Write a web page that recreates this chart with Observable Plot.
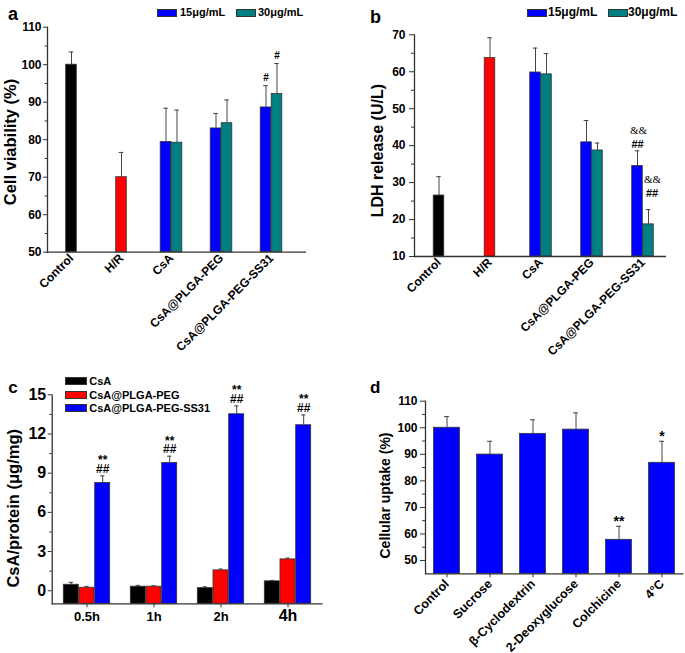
<!DOCTYPE html>
<html><head><meta charset="utf-8">
<script src="https://cdn.jsdelivr.net/npm/d3@7"></script>
<script src="https://cdn.jsdelivr.net/npm/@observablehq/plot@0.6"></script>
<style>
body{margin:0;background:#fff;font-family:"Liberation Sans",Arial,Helvetica,sans-serif;}
#wrap{position:relative;width:685px;height:653px;overflow:hidden;background:#fff}
.panel{position:absolute}
.t{position:absolute;font-weight:bold;color:#000;white-space:nowrap;line-height:1}
.sw{position:absolute;border:1px solid #333;box-sizing:border-box}
</style></head><body><div id="wrap"></div>
<script>
// ---------- DATA ----------
// Panel a: cell viability (%)
const groupsAB = ["Control", "H/R", "CsA", "CsA@PLGA-PEG", "CsA@PLGA-PEG-SS31"];
const singleGroups = ["Control", "H/R"];
const pairGroups = ["CsA", "CsA@PLGA-PEG", "CsA@PLGA-PEG-SS31"];
const viabSingle = [100.0, 70.0];
const viabSingleErr = [3.4, 6.6];
const viab15 = [79.4, 83.0, 88.6];
const viab15Err = [9.0, 4.0, 5.8];
const viab30 = [79.2, 84.4, 92.2];
const viab30Err = [8.7, 6.2, 8.1];
const viabMark15 = ["", "", "#"];
const viabMark30 = ["", "", "#"];
const viabTicks = [50, 60, 70, 80, 90, 100, 110];

// Panel b: LDH release (U/L)
const ldhSingle = [26.5, 63.7];
const ldhSingleErr = [5.1, 5.5];
const ldh15 = [59.8, 40.9, 34.5];
const ldh15Err = [6.6, 5.9, 4.1];
const ldh30 = [59.3, 38.7, 18.7];
const ldh30Err = [5.6, 2.0, 4.0];
const ldhHash15 = ["", "", "##"];
const ldhAmp15 = ["", "", "&&"];
const ldhHash30 = ["", "", "##"];
const ldhAmp30 = ["", "", "&&"];
const ldhTicks = [10, 20, 30, 40, 50, 60, 70];

// Panel c: CsA/protein (µg/mg)
const times = ["0.5h", "1h", "2h", "4h"];
const seriesC = ["CsA", "CsA@PLGA-PEG", "CsA@PLGA-PEG-SS31"];
const cCsA = [0.46, 0.31, 0.20, 0.72];
const cCsAErr = [0.18, 0.10, 0.10, 0.07];
const cPlga = [0.23, 0.31, 1.56, 2.40];
const cPlgaErr = [0.10, 0.07, 0.10, 0.10];
const cSS31 = [8.25, 9.78, 13.51, 12.67];
const cSS31Err = [0.54, 0.52, 0.64, 0.79];
const cStar = ["**", "**", "**", "**"];
const cHash = ["##", "##", "##", "##"];
const cTicks = [0, 3, 6, 9, 12, 15];

// Panel d: cellular uptake (%)
const treatments = ["Control", "Sucrose", "β-Cyclodextrin", "2-Deoxyglucose", "Colchicine", "4°C"];
const uptake = [100.0, 89.9, 97.7, 99.3, 57.8, 86.8];
const uptakeErr = [4.2, 5.0, 5.3, 6.3, 5.1, 8.1];
const uptakeMark = ["", "", "", "", "**", "*"];
const uptakeTicks = [50, 60, 70, 80, 90, 100, 110];

// ---------- STYLE ----------
const FONT = '"Liberation Sans", Arial, Helvetica, sans-serif';
const AXIS = "#333";
const ERR = "#444";
const EDGE = "#333";
const BLUE = "#0000ff", TEAL = "#008080", RED = "#ff0000", BLACK = "#000000";
const singleColor = {"Control": BLACK, "H/R": RED};
const wrap = document.getElementById("wrap");

function place(el, left, top) {
  const d = document.createElement("div");
  d.className = "panel";
  d.style.left = left + "px"; d.style.top = top + "px";
  d.appendChild(el); wrap.appendChild(d);
}
function addText(str, x, baseline, fs) {
  const s = document.createElement("div");
  s.className = "t"; s.textContent = str;
  s.style.fontSize = fs + "px";
  s.style.left = x + "px";
  s.style.top = (baseline - 0.8465 * fs) + "px";
  wrap.appendChild(s);
}
function addSwatch(x, y, w, h, color) {
  const s = document.createElement("div");
  s.className = "sw";
  s.style.left = x + "px"; s.style.top = y + "px";
  s.style.width = w + "px"; s.style.height = h + "px";
  s.style.background = color;
  wrap.appendChild(s);
}
const half = (a) => a.slice(0, -1).map((v, i) => (v + a[i + 1]) / 2);
function rows(groups, vals, errs, marks, marks2) {
  return groups.map((g, i) => ({g, v: vals[i], e: errs[i], m: marks ? marks[i] : "", m2: marks2 ? marks2[i] : ""}));
}
function barSet(data, {fill, dx = 0, inset, capInset, y0}) {
  return [
    Plot.barY(data, {x: "g", y1: () => y0, y2: "v", fill, stroke: EDGE, strokeWidth: 0.8, insetLeft: inset, insetRight: inset, dx}),
    Plot.ruleX(data, {x: "g", y1: "v", y2: d => d.v + d.e, dx, stroke: ERR, strokeWidth: 1}),
    Plot.tickY(data, {x: "g", y: d => d.v + d.e, dx, stroke: ERR, strokeWidth: 1, insetLeft: capInset, insetRight: capInset})
  ];
}
function yAxes(major, minor, fs, tickSize, tickPadding) {
  return [
    Plot.axisY({ticks: major, tickSize, tickPadding, fontSize: fs, label: null, stroke: AXIS, fill: "#000", strokeWidth: 1}),
    Plot.axisY({ticks: minor, tickSize: tickSize * 0.6, tickFormat: () => "", label: null, stroke: AXIS, strokeWidth: 1})
  ];
}
function yLabel(str, dx, dy, fs) {
  return Plot.text([str], {text: d => d, frameAnchor: "left", textAnchor: "middle", lineAnchor: "middle", rotate: -90, dx, dy, fontSize: fs});
}

// ---------- PANEL A ----------
{
  const range = [45, 297];
  const bw = (range[1] - range[0]) / groupsAB.length;
  const barW = 11, inset = (bw - barW) / 2, capInset = (bw - 5) / 2;
  const y0 = viabTicks[0];
  const s = rows(singleGroups, viabSingle, viabSingleErr);
  const p15 = rows(pairGroups, viab15, viab15Err, viabMark15);
  const p30 = rows(pairGroups, viab30, viab30Err, viabMark30);
  const chart = Plot.plot({
    width: 340, height: 330, marginLeft: 47, marginRight: 34, marginTop: 26.7, marginBottom: 78.3,
    style: {fontFamily: FONT, fontWeight: "bold", background: "transparent", color: "#000", overflow: "visible"},
    x: {type: "band", domain: groupsAB, range, padding: 0},
    y: {domain: [viabTicks[0], viabTicks[viabTicks.length - 1]]},
    marks: [
      ...barSet(s, {fill: d => singleColor[d.g], inset, capInset, y0}),
      ...barSet(p15, {fill: BLUE, dx: -barW / 2, inset, capInset, y0}),
      ...barSet(p30, {fill: TEAL, dx: barW / 2, inset, capInset, y0}),
      Plot.text(p15, {x: "g", y: d => d.v + d.e, text: "m", dx: -barW / 2, dy: -8, fontSize: 10}),
      Plot.text(p30, {x: "g", y: d => d.v + d.e, text: "m", dx: barW / 2, dy: -8, fontSize: 10}),
      Plot.ruleY([y0], {stroke: AXIS, strokeWidth: 1.3}),
      Plot.frame({anchor: "left", stroke: AXIS, strokeWidth: 1.3}),
      ...yAxes(viabTicks, half(viabTicks), 12, 4, 2),
      Plot.axisX({tickRotate: -45, tickSize: 0, tickPadding: 4, fontSize: 12, label: null, fill: "#000"}),
      yLabel("Cell viability (%)", -37, 2.3, 16.5)
    ]
  });
  place(chart, 0, 0);
  addText("a", 8, 20.7, 18);
  addSwatch(157, 9.3, 20, 7.6, BLUE);
  addText("15μg/mL", 180, 16.5, 11);
  addSwatch(236, 9.3, 20, 7.6, TEAL);
  addText("30μg/mL", 258, 16.5, 11);
}

// ---------- PANEL B ----------
{
  const range = [72.2, 329.4];
  const bw = (range[1] - range[0]) / groupsAB.length;
  const barW = 11, inset = (bw - barW) / 2, capInset = (bw - 5) / 2;
  const y0 = ldhTicks[0];
  const s = rows(singleGroups, ldhSingle, ldhSingleErr);
  const p15 = rows(pairGroups, ldh15, ldh15Err, ldhHash15, ldhAmp15);
  const p30 = rows(pairGroups, ldh30, ldh30Err, ldhHash30, ldhAmp30);
  const chart = Plot.plot({
    width: 345, height: 330, marginLeft: 74, marginRight: 19, marginTop: 34.3, marginBottom: 74,
    style: {fontFamily: FONT, fontWeight: "bold", background: "transparent", color: "#000", overflow: "visible"},
    x: {type: "band", domain: groupsAB, range, padding: 0},
    y: {domain: [ldhTicks[0], ldhTicks[ldhTicks.length - 1]]},
    marks: [
      ...barSet(s, {fill: d => singleColor[d.g], inset, capInset, y0}),
      ...barSet(p15, {fill: BLUE, dx: -barW / 2, inset, capInset, y0}),
      ...barSet(p30, {fill: TEAL, dx: barW / 2, inset, capInset, y0}),
      Plot.text(p15, {x: "g", y: d => d.v + d.e, text: "m", dx: -barW / 2, dy: -6, fontSize: 11}),
      Plot.text(p15, {x: "g", y: d => d.v + d.e, text: "m2", dx: -barW / 2 + 1, dy: -20, fontSize: 11, fontFamily: "Liberation Serif, serif", fontWeight: "normal"}),
      Plot.text(p30, {x: "g", y: d => d.v + d.e, text: "m", dx: barW / 2 + 3.5, dy: -16, fontSize: 11}),
      Plot.text(p30, {x: "g", y: d => d.v + d.e, text: "m2", dx: barW / 2 + 4, dy: -30, fontSize: 11, fontFamily: "Liberation Serif, serif", fontWeight: "normal"}),
      Plot.ruleY([y0], {stroke: AXIS, strokeWidth: 1.3}),
      Plot.frame({anchor: "left", stroke: AXIS, strokeWidth: 1.3}),
      ...yAxes(ldhTicks, half(ldhTicks), 12, 5, 4),
      Plot.axisX({tickRotate: -45, tickSize: 0, tickPadding: 4, fontSize: 12, label: null, fill: "#000"}),
      yLabel("LDH release (U/L)", -37, 5, 16)
    ]
  });
  place(chart, 340, 0);
  addText("b", 370, 23.3, 18);
  addSwatch(526.7, 8.5, 20, 8, BLUE);
  addText("15μg/mL", 548, 16.3, 12);
  addSwatch(608, 8.5, 20, 8, TEAL);
  addText("30μg/mL", 628, 16.3, 12);
}

// ---------- PANEL C ----------
{
  const range = [51.7, 322.5];
  const bw = (range[1] - range[0]) / times.length;
  const barW = 15.7, inset = (bw - barW) / 2, capInset = (bw - 5) / 2;
  const y0 = -1;
  const r1 = rows(times, cCsA, cCsAErr);
  const r2 = rows(times, cPlga, cPlgaErr);
  const r3 = rows(times, cSS31, cSS31Err, cHash, cStar);
  const chart = Plot.plot({
    width: 340, height: 323, marginLeft: 51.7, marginRight: 17.5, marginTop: 64.3, marginBottom: 49.7,
    style: {fontFamily: FONT, fontWeight: "bold", background: "transparent", color: "#000", overflow: "visible"},
    x: {type: "band", domain: times, range, padding: 0},
    y: {domain: [y0, cTicks[cTicks.length - 1]]},
    marks: [
      ...barSet(r1, {fill: BLACK, dx: -barW, inset, capInset, y0}),
      ...barSet(r2, {fill: RED, dx: 0, inset, capInset, y0}),
      ...barSet(r3, {fill: BLUE, dx: barW, inset, capInset, y0}),
      Plot.text(r3, {x: "g", y: d => d.v + d.e, text: d => d.m2 + "\n" + d.m, dx: barW, dy: -3, lineAnchor: "bottom", lineHeight: 0.72, fontSize: 12}),
      Plot.ruleY([y0], {stroke: AXIS, strokeWidth: 1.3}),
      Plot.frame({anchor: "left", stroke: AXIS, strokeWidth: 1.3}),
      ...yAxes(cTicks, half(cTicks), 16, 4, 2),
      Plot.axisX({tickSize: 4, tickFormat: () => "", label: null, stroke: AXIS}),
      Plot.text(times, {x: d => d, text: d => d, frameAnchor: "bottom", dy: 17, fontSize: d => (d === "4h" ? 16 : 13)}),
      yLabel("CsA/protein (μg/mg)", -38, 9, 16.5)
    ]
  });
  place(chart, 0, 330);
  addText("c", 8.3, 393.5, 17);
  const colors = [BLACK, RED, BLUE];
  const bases = [385.5, 399.3, 412.6];
  seriesC.forEach((name, i) => {
    addSwatch(65, bases[i] - 8.3, 22, 8, colors[i]);
    addText(name, 89.3, bases[i], 11);
  });
}

// ---------- PANEL D ----------
{
  const range = [85, 343.5];
  const bw = (range[1] - range[0]) / treatments.length;
  const barW = 26, inset = (bw - barW) / 2, capInset = (bw - 5) / 2;
  const y0 = 45;
  const r = rows(treatments, uptake, uptakeErr, uptakeMark);
  const chart = Plot.plot({
    width: 345, height: 273, marginLeft: 85, marginRight: 1.5, marginTop: 20.7, marginBottom: 79.7,
    style: {fontFamily: FONT, fontWeight: "bold", background: "transparent", color: "#000", overflow: "visible"},
    x: {type: "band", domain: treatments, range, padding: 0},
    y: {domain: [y0, uptakeTicks[uptakeTicks.length - 1]]},
    marks: [
      ...barSet(r, {fill: BLUE, inset, capInset, y0}),
      Plot.text(r, {x: "g", y: d => d.v + d.e, text: "m", dy: -5, fontSize: 14}),
      Plot.ruleY([y0], {stroke: AXIS, strokeWidth: 1.3}),
      Plot.frame({anchor: "left", stroke: AXIS, strokeWidth: 1.3}),
      ...yAxes(uptakeTicks, half(uptakeTicks), 12, 5, 3),
      Plot.axisX({tickRotate: -45, tickSize: 4, tickPadding: 4, fontSize: 12.5, label: null, stroke: AXIS, fill: "#000"}),
      yLabel("Cellular uptake (%)", -40, 8, 14)
    ]
  });
  place(chart, 340, 380);
  addText("d", 370, 393.3, 17);
}
</script></body></html>
